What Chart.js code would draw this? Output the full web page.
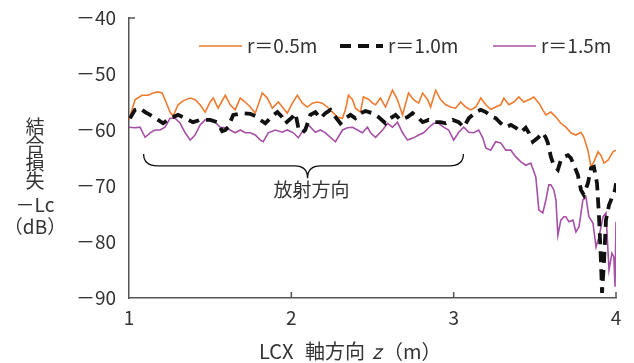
<!DOCTYPE html>
<html>
<head>
<meta charset="utf-8">
<script src="https://cdn.jsdelivr.net/npm/chart.js@4.4.1/dist/chart.umd.min.js"></script>
<style>
  html, body { margin: 0; padding: 0; background: #fff; }
</style>
</head>
<body>
<canvas id="lc-chart" width="634" height="363"></canvas>
<script>
const FONT = '"Noto Sans CJK JP", "Noto Sans", sans-serif';
const axisColor = '#555';
const textColor = '#333';

const seriesLabels = ['r＝0.5m', 'r＝1.0m', 'r＝1.5m'];
const seriesColors = ['#ee7b30', '#111111', '#a650a6'];

const xTicks = [1, 2, 3, 4];
const xTickLabels = ['1', '2', '3', '4'];
const yTicks = [-40, -50, -60, -70, -80, -90];
const yTickLabels = ['－40', '－50', '－60', '－70', '－80', '－90'];
const yTitleLines = ['結', '合', '損', '失', '－Lc', '（dB）'];

// brace over the radiating region: left, tip, right (m) and top, flat, tip (dB)
const braceZ = [1.09, 2.10, 3.06];
const braceDb = [-64.3, -66.4, -68.6];
const braceLabel = '放射方向';

// r = 0.5 m
const z05 = [1.00, 1.037, 1.080, 1.117, 1.148, 1.179, 1.204, 1.222, 1.253, 1.272, 1.302, 1.333, 1.377, 1.407, 1.438, 1.469,
  1.500, 1.519, 1.549, 1.593, 1.623, 1.654, 1.685, 1.716, 1.747, 1.778, 1.821, 1.852, 1.883, 1.920, 1.951, 1.975,
  2.006, 2.037, 2.068, 2.099, 2.130, 2.160, 2.191, 2.222, 2.253, 2.284, 2.315, 2.333, 2.352, 2.377, 2.395, 2.426,
  2.444, 2.475, 2.500, 2.519, 2.549, 2.580, 2.623, 2.654, 2.685, 2.722, 2.753, 2.784, 2.809, 2.840, 2.858, 2.889,
  2.920, 2.951, 2.981, 3.012, 3.043, 3.074, 3.105, 3.136, 3.167, 3.198, 3.228, 3.259, 3.290, 3.309, 3.340, 3.370,
  3.401, 3.432, 3.463, 3.494, 3.525, 3.549, 3.568, 3.599, 3.630, 3.660, 3.691, 3.722, 3.753, 3.784, 3.802, 3.827,
  3.846, 3.864, 3.889, 3.907, 3.926, 3.951, 3.981, 4.000];
const lc05 = [-58.2, -54.6, -53.8, -53.8, -53.4, -53.2, -53.4, -54.6, -56.8, -57.5, -55.5, -54.8, -54.3, -54.6, -55.5, -56.8,
  -55.0, -54.3, -56.1, -53.8, -55.5, -56.4, -54.3, -55.0, -55.9, -57.0, -53.4, -54.3, -56.1, -55.0, -56.1, -57.0,
  -55.2, -53.8, -55.2, -55.9, -55.2, -55.0, -55.2, -55.9, -56.8, -57.7, -57.9, -56.4, -53.8, -54.6, -56.1, -56.8,
  -54.1, -54.5, -55.2, -55.5, -54.3, -55.9, -52.9, -54.6, -57.3, -53.4, -54.6, -55.2, -53.4, -54.6, -55.9, -52.9,
  -54.6, -55.5, -55.9, -56.1, -55.0, -55.9, -56.4, -55.9, -54.3, -55.5, -56.3, -55.9, -55.5, -54.3, -55.5, -55.0,
  -54.1, -55.0, -54.6, -54.1, -55.2, -56.4, -57.3, -56.8, -57.7, -58.8, -59.5, -60.5, -60.9, -60.4, -61.3, -63.6,
  -66.6, -65.7, -63.9, -64.5, -65.9, -65.4, -63.9, -63.6];

// r = 1.0 m
const z10 = [1.006, 1.037, 1.068, 1.099, 1.130, 1.179, 1.210, 1.253, 1.302, 1.333, 1.364, 1.395, 1.438, 1.500, 1.543, 1.574,
  1.593, 1.611, 1.642, 1.698, 1.747, 1.778, 1.809, 1.840, 1.883, 1.914, 1.944, 1.963, 2.006, 2.025, 2.043, 2.068,
  2.086, 2.117, 2.148, 2.179, 2.210, 2.241, 2.272, 2.302, 2.333, 2.364, 2.395, 2.426, 2.457, 2.500, 2.537, 2.580,
  2.611, 2.642, 2.673, 2.716, 2.747, 2.778, 2.809, 2.846, 2.877, 2.920, 2.951, 2.994, 3.031, 3.062, 3.093, 3.136,
  3.167, 3.198, 3.241, 3.259, 3.290, 3.321, 3.352, 3.383, 3.414, 3.444, 3.463, 3.488, 3.519, 3.549, 3.568, 3.580,
  3.599, 3.617, 3.642, 3.660, 3.679, 3.704, 3.722, 3.741, 3.765, 3.784, 3.802, 3.827, 3.846, 3.864, 3.883, 3.895,
  3.907, 3.914, 3.926, 3.938, 3.957, 3.975, 3.994, 4.000];
const lc10 = [-57.9, -56.4, -56.1, -56.8, -57.3, -58.2, -58.8, -57.9, -57.3, -57.7, -58.2, -58.6, -58.2, -58.2, -58.6, -60.2,
  -60.0, -59.5, -57.3, -57.0, -57.1, -57.5, -58.2, -58.8, -57.5, -56.8, -57.7, -58.8, -57.7, -57.0, -59.6, -60.5,
  -60.0, -57.3, -56.8, -57.9, -57.0, -56.4, -57.7, -58.8, -57.9, -57.3, -57.9, -57.0, -56.6, -57.0, -57.7, -58.8,
  -57.9, -57.3, -58.2, -57.7, -57.0, -57.7, -58.6, -58.2, -58.6, -58.6, -58.8, -58.2, -58.6, -59.5, -57.9, -56.8,
  -56.4, -56.8, -57.7, -57.9, -58.8, -59.5, -59.1, -59.6, -60.4, -59.6, -60.5, -62.1, -61.4, -60.5, -61.4, -62.3,
  -64.8, -66.3, -67.1, -65.4, -64.8, -64.5, -65.0, -66.3, -68.0, -70.7, -71.6, -69.5, -66.8, -66.6, -69.5, -75.2,
  -83.2, -89.1, -83.6, -76.1, -73.4, -72.1, -70.7, -69.5];

// r = 1.5 m
const z15 = [1.00, 1.037, 1.068, 1.099, 1.130, 1.160, 1.191, 1.222, 1.253, 1.284, 1.315, 1.346, 1.377, 1.407, 1.438, 1.469,
  1.500, 1.531, 1.562, 1.593, 1.623, 1.654, 1.685, 1.716, 1.747, 1.778, 1.809, 1.827, 1.858, 1.901, 1.944, 1.975,
  2.012, 2.043, 2.074, 2.105, 2.148, 2.179, 2.210, 2.241, 2.272, 2.315, 2.346, 2.377, 2.407, 2.438, 2.469, 2.488,
  2.519, 2.562, 2.593, 2.623, 2.654, 2.685, 2.716, 2.753, 2.784, 2.815, 2.846, 2.877, 2.907, 2.938, 2.969, 3.000,
  3.031, 3.062, 3.093, 3.123, 3.154, 3.179, 3.198, 3.228, 3.259, 3.290, 3.321, 3.352, 3.383, 3.414, 3.444, 3.475,
  3.506, 3.525, 3.549, 3.568, 3.586, 3.599, 3.617, 3.630, 3.642, 3.660, 3.679, 3.691, 3.710, 3.735, 3.753, 3.772,
  3.796, 3.815, 3.833, 3.858, 3.877, 3.895, 3.920, 3.938, 3.957, 3.975, 3.987, 3.994, 4.000];
const lc15 = [-59.5, -59.6, -59.5, -61.3, -60.5, -60.0, -60.0, -59.5, -57.9, -57.9, -58.8, -60.5, -61.8, -60.9, -59.1, -58.2,
  -58.2, -58.6, -59.5, -59.6, -60.0, -60.5, -60.0, -60.5, -60.5, -60.9, -61.8, -62.1, -60.5, -60.0, -60.4, -60.0,
  -60.5, -61.4, -60.0, -59.1, -60.4, -60.0, -60.5, -61.3, -62.1, -60.0, -59.6, -59.5, -60.0, -60.5, -59.5, -60.5,
  -61.3, -60.0, -58.8, -59.5, -58.6, -60.5, -61.8, -61.4, -60.9, -60.5, -59.6, -58.8, -58.8, -59.5, -60.0, -61.8,
  -60.4, -59.5, -60.4, -60.5, -60.0, -61.4, -63.2, -63.6, -62.1, -62.3, -63.6, -63.6, -64.8, -65.7, -66.3, -65.9,
  -68.4, -74.3, -74.8, -72.5, -69.8, -69.8, -70.7, -72.5, -78.8, -76.1, -75.5, -75.5, -76.4, -76.1, -78.2, -77.3,
  -72.5, -72.0, -75.5, -76.6, -80.9, -79.1, -75.5, -74.8, -85.0, -82.0, -82.7, -88.0, -76.4];

const toPoints = (zs, vals) => zs.map((z, i) => ({ x: z, y: vals[i] }));

const extras = {
  id: 'extras',
  afterDraw(chart) {
    const { ctx, chartArea: a, scales: { x, y } } = chart;
    ctx.save();

    // inner tick marks
    ctx.strokeStyle = axisColor;
    ctx.lineWidth = 1.5;
    ctx.beginPath();
    xTicks.slice(1).forEach(v => {
      const px = x.getPixelForValue(v);
      ctx.moveTo(px, a.bottom);
      ctx.lineTo(px, a.bottom - 6);
    });
    const yTop = y.getPixelForValue(yTicks[0]);
    ctx.moveTo(a.left, yTop);
    ctx.lineTo(a.left + 6, yTop);
    ctx.stroke();

    // brace
    const bl = x.getPixelForValue(braceZ[0]);
    const bm = x.getPixelForValue(braceZ[1]);
    const br = x.getPixelForValue(braceZ[2]);
    const yt = y.getPixelForValue(braceDb[0]);
    const yf = y.getPixelForValue(braceDb[1]);
    const yp = y.getPixelForValue(braceDb[2]);
    ctx.strokeStyle = '#111';
    ctx.lineWidth = 1.3;
    ctx.beginPath();
    ctx.moveTo(bl, yt);
    ctx.quadraticCurveTo(bl, yf, bl + 14, yf);
    ctx.lineTo(bm - 13, yf);
    ctx.quadraticCurveTo(bm, yf, bm, yp);
    ctx.quadraticCurveTo(bm, yf, bm + 13, yf);
    ctx.lineTo(br - 14, yf);
    ctx.quadraticCurveTo(br, yf, br, yt);
    ctx.stroke();

    ctx.fillStyle = textColor;
    ctx.font = '19px ' + FONT;
    ctx.textAlign = 'center';
    ctx.textBaseline = 'middle';
    ctx.fillText(braceLabel, bm + 4, yp + 12);

    // y axis title, stacked
    const titleY = [127, 145, 163, 181, 205, 227];
    yTitleLines.forEach((t, i) => ctx.fillText(t, 35, titleY[i]));

    // x axis title with italic z
    const parts = [['LCX', 'normal', 259], ['軸方向', 'normal', 305], ['z', 'italic', 372], ['（m）', 'normal', 383]];
    ctx.textAlign = 'left';
    parts.forEach(([t, st, px]) => {
      ctx.font = st + ' 20px ' + FONT;
      ctx.fillText(t, px, 351);
    });

    // legend inside plot
    ctx.font = '19px ' + FONT;
    const legendX = [199, 340, 493];
    chart.data.datasets.forEach((ds, i) => {
      const lx = legendX[i];
      ctx.strokeStyle = ds.borderColor;
      ctx.lineWidth = ds.borderWidth;
      ctx.setLineDash(ds.borderDash || []);
      ctx.beginPath();
      ctx.moveTo(lx, 46);
      ctx.lineTo(lx + 43, 46);
      ctx.stroke();
      ctx.setLineDash([]);
      ctx.fillStyle = textColor;
      ctx.fillText(ds.label, lx + 48, 46);
    });

    ctx.restore();
  }
};

new Chart(document.getElementById('lc-chart'), {
  type: 'line',
  data: {
    datasets: [
      { label: seriesLabels[0], data: toPoints(z05, lc05), borderColor: seriesColors[0], borderWidth: 1.6, order: 2 },
      { label: seriesLabels[1], data: toPoints(z10, lc10), borderColor: seriesColors[1], borderWidth: 3.8, borderDash: [11, 7], order: 0 },
      { label: seriesLabels[2], data: toPoints(z15, lc15), borderColor: seriesColors[2], borderWidth: 1.6, order: 1 }
    ]
  },
  options: {
    responsive: false,
    animation: false,
    devicePixelRatio: 1,
    layout: { padding: { left: 0, right: 18, top: 18, bottom: 0 } },
    elements: { point: { radius: 0 }, line: { tension: 0, fill: false } },
    plugins: { legend: { display: false }, tooltip: { enabled: false } },
    scales: {
      x: {
        type: 'linear', min: 1, max: 4,
        afterBuildTicks: s => { s.ticks = xTicks.map(v => ({ value: v })); },
        afterFit: s => { s.height = 65; },
        ticks: {
          callback: (v, i) => xTickLabels[i],
          font: { family: FONT, size: 19 }, color: textColor, padding: 8, maxRotation: 0, autoSkip: false
        },
        grid: { display: false, drawTicks: false },
        border: { display: true, color: axisColor, width: 1.5 }
      },
      y: {
        min: -90, max: -40,
        afterBuildTicks: s => { s.ticks = yTicks.map(v => ({ value: v })); },
        afterFit: s => { s.width = 129; s.paddingTop = 0; s.paddingBottom = 0; },
        ticks: {
          callback: (v, i) => yTickLabels[i],
          font: { family: FONT, size: 19 }, color: textColor, padding: 13, autoSkip: false
        },
        grid: { display: false, drawTicks: false },
        border: { display: true, color: axisColor, width: 1.5 }
      }
    }
  },
  plugins: [extras]
});
</script>
</body>
</html>
